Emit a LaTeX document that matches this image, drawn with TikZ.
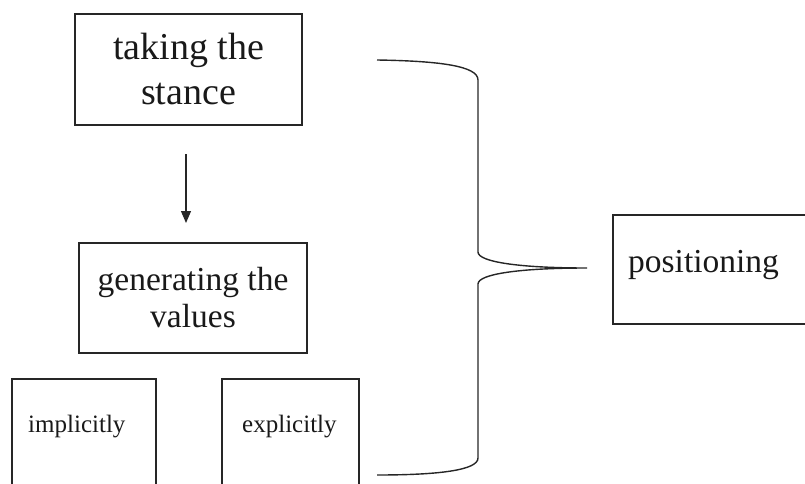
\documentclass[tikz,border=0pt]{standalone}
\usepackage{fontspec}
\setmainfont{Liberation Serif}
\usetikzlibrary{arrows.meta}
\begin{document}
\begin{tikzpicture}[x=1pt,y=-1pt,
  boxstyle/.style={draw=black!85, line width=1.3pt, rectangle, inner sep=0pt, align=center, text=black!90},
  lineclr/.style={draw=black!85, line width=1.3pt}]
\useasboundingbox (0,0) rectangle (805,484);
\clip (0,0) rectangle (805,484);
\node[boxstyle, minimum width=227pt, minimum height=111pt,
  font=\fontsize{38}{45}\selectfont] (stance) at (188.5,69.5) {taking the\\stance};
\node[boxstyle, minimum width=228pt, minimum height=110pt,
  font=\fontsize{33.5}{37}\selectfont] (values) at (193,298) {generating the\\values};
\node[boxstyle, minimum width=144pt, minimum height=122pt] (impbox) at (84,440) {};
\node[boxstyle, minimum width=137pt, minimum height=122pt] (expbox) at (290.5,440) {};
\node[boxstyle, minimum width=204pt, minimum height=109pt] (posbox) at (715,269.5) {};
\node[anchor=base west, inner sep=0pt, font=\fontsize{25}{30}\selectfont, text=black!90] (imp) at (28,432) {implicitly};
\node[anchor=base west, inner sep=0pt, font=\fontsize{25}{30}\selectfont, text=black!90] (exp) at (242,432) {explicitly};
\node[anchor=base west, inner sep=0pt, font=\fontsize{33.5}{40}\selectfont, text=black!90] (pos) at (628,272) {positioning};
\coordinate (a1) at (186,154);
\coordinate (a2) at (186,223);
\draw[lineclr, -{Triangle[length=12pt,width=10pt]}] (a1) -- (a2);
\coordinate (btop) at (377,60);
\coordinate (btip) at (587,268);
\coordinate (bbot) at (377,475);
\draw[lineclr, line width=1.4pt] (btop) .. controls (440,61) and (478,66) .. (478,80) -- (478,252)
  .. controls (478,262) and (520,268) .. (btip)
  .. controls (520,268) and (478,274) .. (478,284) -- (478,458)
  .. controls (478,470) and (440,475) .. (bbot);
\end{tikzpicture}
\end{document}
